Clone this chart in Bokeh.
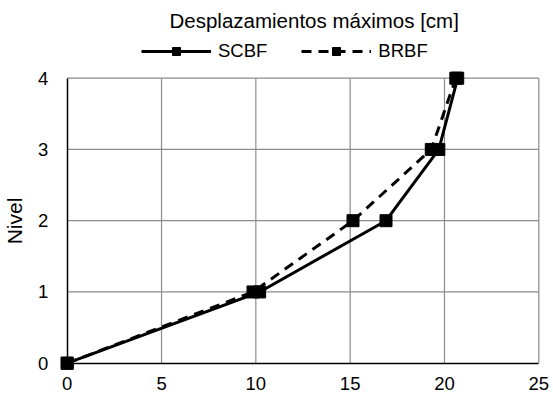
from bokeh.plotting import figure
from bokeh.models import Legend, LegendItem, Range1d, FixedTicker, Title, LinearAxis
from bokeh.embed import file_html
from bokeh.resources import INLINE

niveles = [0, 1, 2, 3, 4]
scbf = [0, 10.2, 16.9, 19.7, 20.7]
brbf = [0, 9.85, 15.15, 19.3, 20.6]
x_ticks = [0, 5, 10, 15, 20, 25]
y_ticks = [0, 1, 2, 3, 4]

FONT = "Liberation Sans"

p = figure(width=553, height=402, output_backend="svg", toolbar_location=None,
           x_range=Range1d(-3.5358, 25.779), y_range=Range1d(-0.5516, 4.6133),
           x_axis_location=None, y_axis_location=None,
           min_border_left=0, min_border_right=0, min_border_top=34, min_border_bottom=0,
           title=None)
p.outline_line_color = None
p.background_fill_color = "white"
p.border_fill_color = "white"
p.xgrid.visible = False
p.ygrid.visible = False

# grid lines drawn from the tick lists
x0, x1 = x_ticks[0], x_ticks[-1]
y0, y1 = y_ticks[0], y_ticks[-1]
p.segment(x0=x_ticks[1:], y0=[y0] * (len(x_ticks) - 1), x1=x_ticks[1:], y1=[y1] * (len(x_ticks) - 1),
          line_color="#8c8c8c", line_width=1.2)
p.segment(x0=[x0] * (len(y_ticks) - 1), y0=y_ticks[1:], x1=[x1] * (len(y_ticks) - 1), y1=y_ticks[1:],
          line_color="#8c8c8c", line_width=1.2)

xaxis = LinearAxis(fixed_location=0, bounds=(x0, x1), ticker=FixedTicker(ticks=x_ticks))
yaxis = LinearAxis(fixed_location=0, bounds=(y0, y1), ticker=FixedTicker(ticks=y_ticks),
                   axis_label="Nivel")
for ax in (xaxis, yaxis):
    ax.major_label_text_font = FONT
    ax.major_label_text_font_size = "18.5px"
    ax.major_label_text_color = "black"
    ax.axis_line_color = "black"
    ax.axis_line_width = 1.5
    ax.major_tick_in = 0
    ax.major_tick_out = 0
    ax.minor_tick_in = 0
    ax.minor_tick_out = 0
xaxis.major_label_standoff = 14
yaxis.major_label_standoff = 19
yaxis.axis_label_text_font = FONT
yaxis.axis_label_text_font_size = "21px"
yaxis.axis_label_text_font_style = "normal"
yaxis.axis_label_text_color = "black"
yaxis.axis_label_standoff = 9
p.add_layout(xaxis, "below")
p.add_layout(yaxis, "left")

r1 = p.line(scbf, niveles, line_color="black", line_width=3)
m1 = p.scatter(scbf, niveles, marker="square", size=12, fill_color="black", line_color="black")
r2 = p.line(brbf, niveles, line_color="black", line_width=3, line_dash="10 7")
m2 = p.scatter(brbf, niveles, marker="square", size=12, fill_color="black", line_color="black")

legend = Legend(items=[LegendItem(label="SCBF", renderers=[r1, m1]),
                       LegendItem(label="BRBF", renderers=[r2, m2])],
                orientation="horizontal", location=(141, 340),
                label_text_font=FONT, label_text_font_size="18.5px",
                label_text_color="black",
                glyph_width=70, glyph_height=20, label_standoff=7, spacing=34,
                padding=2, margin=0, border_line_color=None, background_fill_alpha=0)
p.add_layout(legend, "center")

title = Title(text="Desplazamientos máximos [cm]", align="left", offset=169,
              text_font=FONT, text_font_size="20.5px", text_font_style="normal",
              text_color="black", standoff=5)
p.add_layout(title, "above")

open("out.html", "w").write(file_html(p, INLINE))
